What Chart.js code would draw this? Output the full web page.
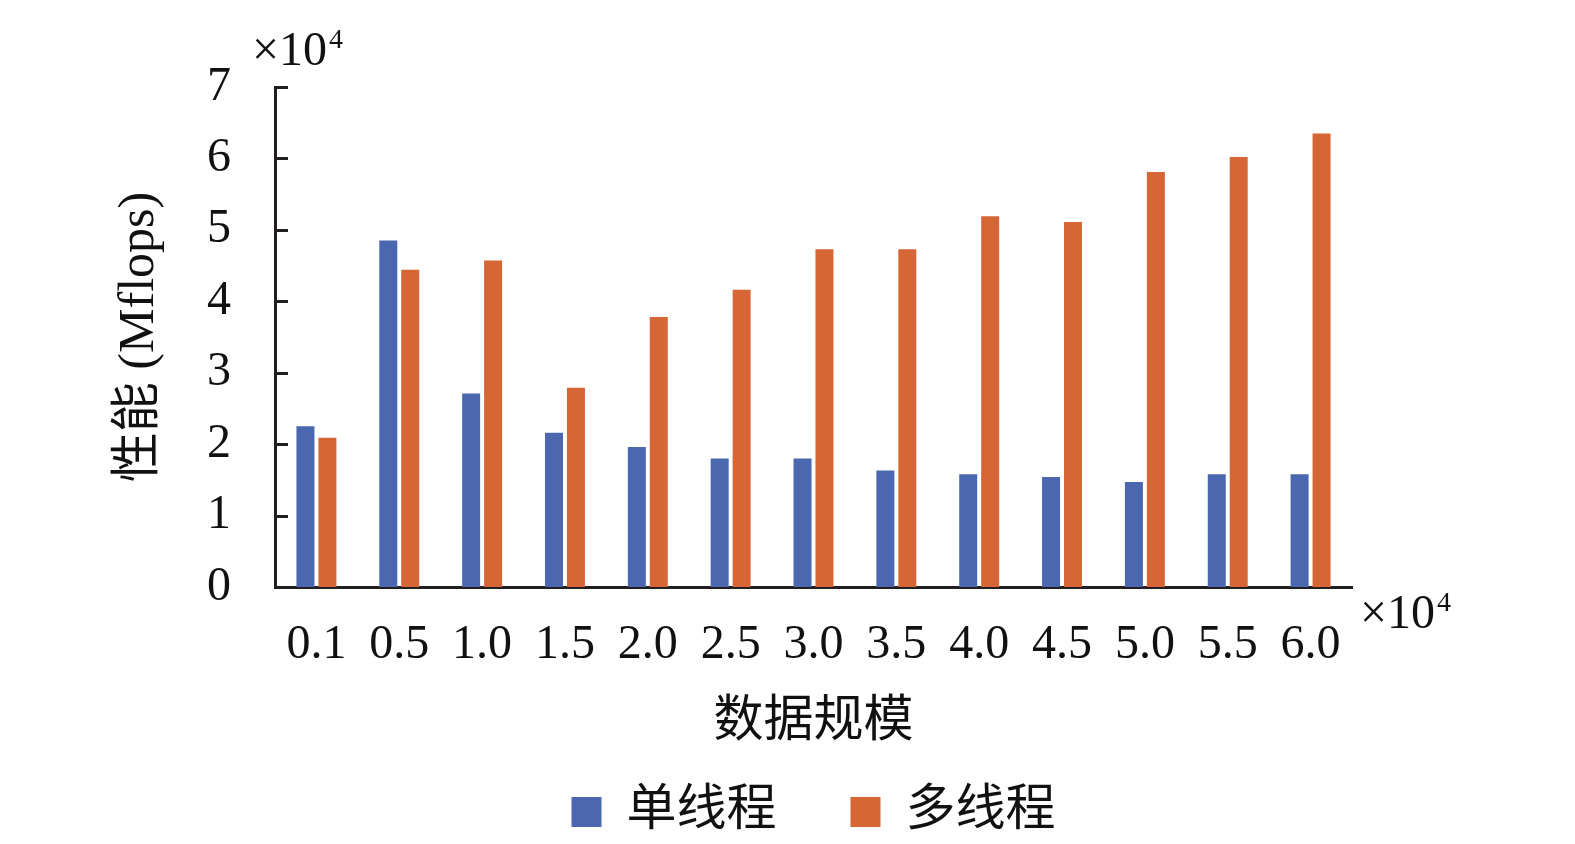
<!DOCTYPE html>
<html>
<head>
<meta charset="utf-8">
<title>性能对比</title>
<script src="https://cdn.jsdelivr.net/npm/chart.js@4.4.1/dist/chart.umd.min.js"></script>
<style>
    html, body { margin: 0; padding: 0; background: #fff; }
    #wrap { width: 1575px; height: 844px; }
</style>
</head>
<body>
<div id="wrap"><canvas id="perfChart"></canvas></div>
<script>
// 数据规模 (×10^4)
const categories = ["0.1", "0.5", "1.0", "1.5", "2.0", "2.5", "3.0", "3.5", "4.0", "4.5", "5.0", "5.5", "6.0"];
// 性能 (×10^4 Mflops)
const singleThread = [2.25, 4.85, 2.71, 2.16, 1.96, 1.80, 1.80, 1.63, 1.58, 1.54, 1.47, 1.58, 1.58];
const multiThread = [2.09, 4.44, 4.57, 2.79, 3.78, 4.16, 4.73, 4.73, 5.19, 5.11, 5.81, 6.02, 6.35];
const yTicks = [0, 1, 2, 3, 4, 5, 6, 7];

const FONT = "'Liberation Serif', 'Noto Sans CJK SC', serif";
const AXIS_COLOR = "#231f20";

// inward tick marks on the y axis + the two ×10^4 notes
const extrasPlugin = {
    id: "extras",
    afterDraw(chart) {
        const ctx = chart.ctx;
        const y = chart.scales.y;
        const area = chart.chartArea;
        ctx.save();
        ctx.strokeStyle = AXIS_COLOR;
        ctx.lineWidth = 3;
        yTicks.forEach(v => {
            if (v === 0) return;
            const py = Math.round(y.getPixelForValue(v)) + 0.5;
            ctx.beginPath();
            ctx.moveTo(area.left, py);
            ctx.lineTo(area.left + 13, py);
            ctx.stroke();
        });

        function power(x, base) {
            ctx.fillStyle = "#111";
            ctx.textBaseline = "alphabetic";
            ctx.textAlign = "left";
            ctx.font = "48px " + FONT;
            ctx.fillText("×10", x, base);
            const w = ctx.measureText("×10").width;
            ctx.font = "28px " + FONT;
            ctx.fillText("4", x + w + 2, base - 17);
        }
        power(area.left - 23, area.top - 22);
        power(area.right + 8, area.bottom + 41);
        ctx.restore();
    }
};

document.addEventListener("DOMContentLoaded", function () {
    const ctx = document.getElementById("perfChart").getContext("2d");

    new Chart(ctx, {
        type: "bar",
        data: {
            labels: categories,
            datasets: [{
                label: "单线程",
                data: singleThread,
                backgroundColor: "#4a67b0",
                borderWidth: 0
            }, {
                label: "多线程",
                data: multiThread,
                backgroundColor: "#d76637",
                borderWidth: 0
            }]
        },
        options: {
            responsive: true,
            maintainAspectRatio: false,
            devicePixelRatio: 1,
            animation: false,
            categoryPercentage: 0.53,
            barPercentage: 0.82,
            layout: {
                padding: { left: 110, right: 223, top: 87, bottom: -3 }
            },
            plugins: {
                tooltip: { enabled: false },
                legend: {
                    position: "bottom",
                    fullSize: false,
                    labels: {
                        boxWidth: 30,
                        boxHeight: 30,
                        padding: 74,
                        color: "#111",
                        font: { family: FONT, size: 50 }
                    }
                }
            },
            scales: {
                x: {
                    grid: { display: false, drawTicks: false },
                    border: { display: true, color: AXIS_COLOR, width: 3 },
                    ticks: {
                        color: "#111",
                        padding: 30,
                        maxRotation: 0,
                        autoSkip: false,
                        font: { family: FONT, size: 48 }
                    },
                    title: {
                        display: true,
                        text: "数据规模",
                        color: "#111",
                        padding: { top: 0, bottom: -40 },
                        font: { family: FONT, size: 50 }
                    },
                    afterFit(scale) { scale.height = 126; }
                },
                y: {
                    min: 0,
                    max: 7,
                    grid: { display: false, drawTicks: false },
                    border: { display: true, color: AXIS_COLOR, width: 3 },
                    ticks: {
                        stepSize: 1,
                        color: "#111",
                        padding: 44,
                        font: { family: FONT, size: 48 }
                    },
                    title: {
                        display: true,
                        text: "性能 (Mflops)",
                        color: "#111",
                        padding: 0,
                        font: { family: FONT, size: 50 }
                    },
                    afterFit(scale) { scale.width = 165; }
                }
            }
        },
        plugins: [extrasPlugin]
    });
});
</script>
</body>
</html>
